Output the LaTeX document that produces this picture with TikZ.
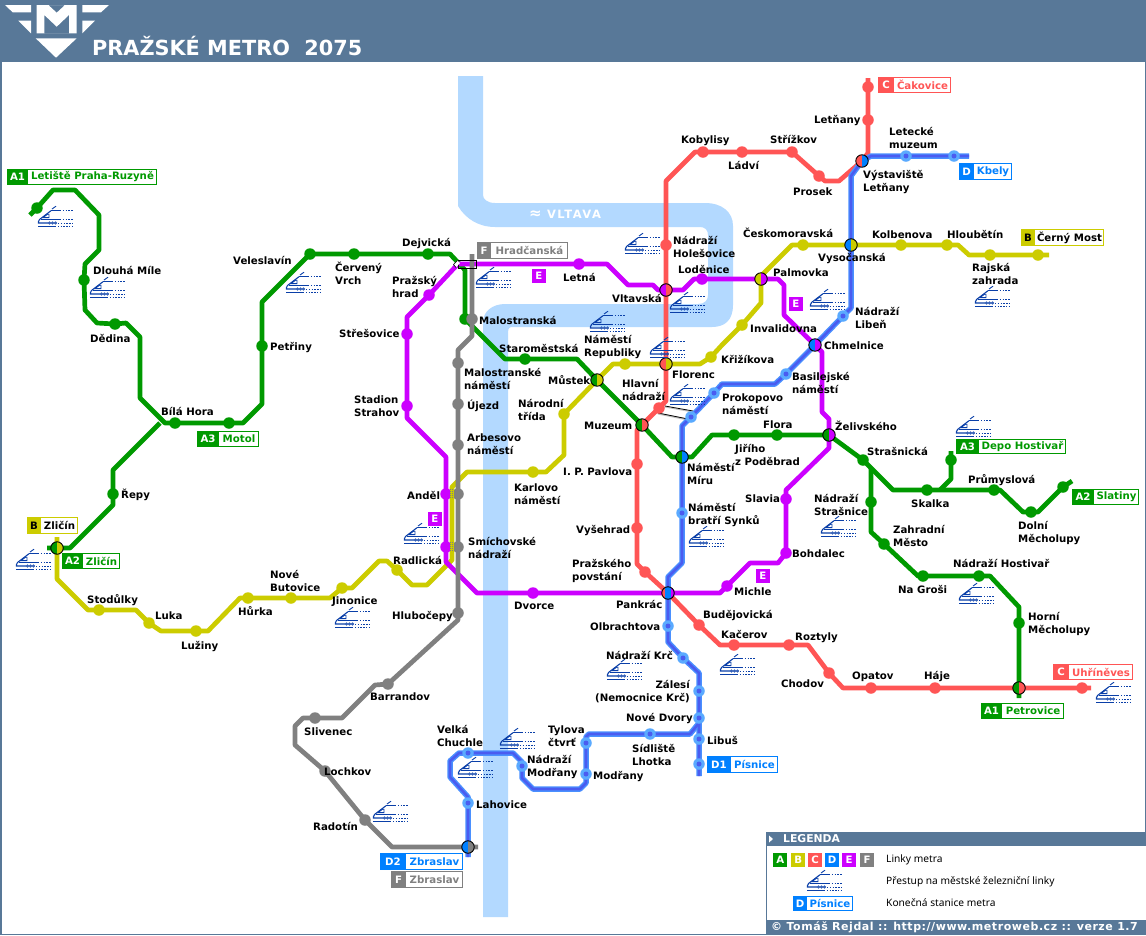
\documentclass[tikz,border=0pt]{standalone}
\usepackage{fontspec}
\setmainfont{DejaVu Sans}
\newfontfamily\legfont{Noto Sans}
\newfontfamily\footfont[LetterSpace=5]{DejaVu Sans}
\newfontfamily\vltfont[LetterSpace=13]{DejaVu Sans}
\usetikzlibrary{calc}
\definecolor{hdr}{HTML}{587898}
\definecolor{water}{HTML}{B3D9FF}
\definecolor{colA}{HTML}{009900}
\definecolor{colB}{HTML}{CCCC00}
\definecolor{colC}{HTML}{FF5555}
\definecolor{colD}{HTML}{0080FF}
\definecolor{colDo}{HTML}{4A90FF}
\definecolor{colDi}{HTML}{4A5CF0}
\definecolor{colDd}{HTML}{5AAAFF}
\definecolor{colE}{HTML}{CC00FF}
\definecolor{colF}{HTML}{808080}
\definecolor{trainc}{HTML}{0A3FA8}
\newcommand\Kst{\rule[-2.5pt]{0pt}{10.5pt}}
\tikzset{
 linea/.style={line width=4.7pt,line join=round,color=colA},
 lineb/.style={line width=4.7pt,line join=round,color=colB},
 linec/.style={line width=4.7pt,line join=round,color=colC},
 linee/.style={line width=4.7pt,line join=round,color=colE},
 linef/.style={line width=4.7pt,line join=round,color=colF},
 lined/.style={line width=5.5pt,line join=round,color=colDo},
 linedi/.style={line width=2.6pt,line join=round,color=colDi},
 dotbase/.style={circle,inner sep=0pt,minimum size=11.5pt},
 dota/.style={dotbase,fill=colA},
 dotb/.style={dotbase,fill=colB},
 dotc/.style={dotbase,fill=colC},
 dote/.style={dotbase,fill=colE},
 dotf/.style={dotbase,fill=colF},
 dotd/.style={dotbase,fill=colDd},
 dotdi/.style={circle,inner sep=0pt,minimum size=5pt,fill=colDi},
 ichg/.style 2 args={circle,inner sep=0pt,minimum size=12.5pt,draw=black,line width=.9pt,
   path picture={
    \fill[#1] (path picture bounding box.south west) rectangle (path picture bounding box.north);
    \fill[#2] (path picture bounding box.south) rectangle (path picture bounding box.north east);
   }},
 ichgthree/.style n args={3}{circle,inner sep=0pt,minimum size=12.5pt,draw=black,line width=.9pt,
   path picture={
    \fill[#1] (path picture bounding box.south west) rectangle (path picture bounding box.north east);
    \fill[#2] ($(path picture bounding box.south)+(-3pt,0)$) rectangle ($(path picture bounding box.north)+(3pt,0)$);
    \fill[#3] ($(path picture bounding box.south)+(3pt,0)$) rectangle (path picture bounding box.north east);
   }},
 stlabel/.style={anchor=west,inner sep=0pt,yshift=-1.5pt,align=left,font=\fontsize{10.2}{13}\selectfont\bfseries,
   execute at begin node=\Kst,execute at end node=\Kst},
 boxtxt/.style={inner sep=0pt,font=\fontsize{10.2}{12}\selectfont\bfseries},
 legtxt/.style={anchor=west,inner sep=0pt,font=\legfont\fontsize{10.2}{12}\selectfont},
 trainln/.style={line width=.9pt,color=trainc},
 traindot/.style={line width=.9pt,color=trainc,dash pattern=on 1.4pt off 1.4pt},
 trainicon/.pic={
   \draw[trainln] (14,2) -- (18,-.8);
   \draw[trainln,line width=1.4pt] (13,3.7) -- (22,3.7);
   \draw[traindot,line width=1.4pt] (22,3.7) -- (35,3.7);
   \draw[trainln,line width=1.1pt] (13,3.7) -- (1.5,12.5) -- (.5,14.5) -- (.5,16) -- (10,16);
   \draw[trainln] (3,12.8) -- (22,12.8);
   \draw[traindot] (22,12.8) -- (35,12.8);
   \draw[trainln] (5,10.6) -- (9.5,7.2) -- (11,7.2) -- (11,10.6) -- cycle;
   \draw[trainln,line width=.7pt] (11.5,16) circle (1.1pt) (14.5,16) circle (1.1pt) (17.5,16) circle (1.1pt);
   \draw[traindot] (20,16) -- (35,16);
   \draw[trainln,line width=1.1pt] (0,19.2) -- (17,19.2);
   \draw[traindot] (17,19.2) -- (35,19.2);
 },
}
\newcommand\lab[4]{\node[stlabel] (t#1) at (#2,#3) {#4};}
% name x0 y0 split x1 y1 colour tag text
\newcommand\tb[9]{%
 \draw[#7,fill=white,line width=1pt] (#2+.5,#3+.5) rectangle (#5-.5,#6-.5);
 \fill[#7] (#2,#3) rectangle (#4,#6);
 \node[boxtxt,text=white] (#1tag) at ($(#2,#3)!.5!(#4,#6)$) {#8};
 \node[boxtxt,text=#7] (#1txt) at ($(#4,#3)!.5!(#5,#6)$) {#9};
}
\newcommand\etag[3]{\node[boxtxt,text=white,fill=colE,minimum width=13.5pt,minimum height=14pt,anchor=north west] (#1) at (#2,#3) {E};}
\newcommand\train[2]{\pic at (#1,#2) {trainicon};}
\begin{document}
\begin{tikzpicture}[x=1pt,y=-1pt]
\useasboundingbox (0,0) rectangle (1146,935);
\fill[white] (0,0) rectangle (1146,935);
\draw[hdr,line width=1.5pt] (.75,0) -- (.75,934.25) -- (1145.25,934.25) -- (1145.25,0);
\fill[hdr] (0,0) rectangle (1146,62);
% logo
\fill[white] (5,5) -- (31,5) -- (31,12.3) -- (12.7,12.3) -- cycle;
\fill[white] (18.3,20.7) -- (31,20.7) -- (31,33.3) -- cycle;
\fill[white] (109,5) -- (82.3,5) -- (82.3,12.3) -- (101,12.3) -- cycle;
\fill[white] (95,20.7) -- (82.3,20.7) -- (82.3,33.3) -- cycle;
\fill[white,even odd rule] (36.7,5) rectangle (76.7,33.3)
   (48.3,5) -- (65,5) -- (56.7,12.7) -- cycle
   (44.3,15) -- (56.7,26.7) -- (69,15) -- (69,33.3) -- (44.3,33.3) -- cycle;
\fill[white] (35.7,38.3) -- (76.7,38.3) -- (56,57.7) -- cycle;
\node[inner sep=0pt,anchor=base west,text=white,font=\fontsize{20.8}{24}\selectfont\bfseries] (title) at (92,55) {PRAŽSKÉ METRO\ \ 2075};
% river
\fill[water] (458,76) -- (483,76) -- (483,195) .. controls (483,199) and (487,203) .. (495,203) -- (705,203)
  .. controls (722,203) and (733,212) .. (733,226) -- (733,305) .. controls (733,320) and (725,327) .. (712,327)
  -- (512,327) .. controls (508,327) and (508,330) .. (508,335) -- (508,917) -- (483,917) -- (483,322)
  .. controls (483,312) and (492,304) .. (505,304) -- (698,304) .. controls (705,304) and (708,300) .. (708,295)
  -- (708,235) .. controls (708,230) and (705,227) .. (700,227) -- (495,227)
  .. controls (478,227) and (465,218) .. (458,206) -- cycle;
\node[inner sep=0pt,text=white,font=\vltfont\fontsize{11.5}{12}\selectfont\bfseries] (vltava) at (565,214) {{\fontsize{15}{12}\selectfont ≈} VLTAVA};
% station coordinates
\foreach \n/\x/\y in {aLet/37/208,aDlo/84/280,aDed/115/324,aBil/175/423,aMot/229/423,aPet/262/346,aVel/310/254,aCer/354/254,aDej/428/254,aRep/113/494,aMal/465/319,aSta/525/359,aJir/734/435,aFlo/777/435,aStr/863/460,aSka/927/490,aPru/994/490,aDol/1031/512,aSla/1063/487,aDep/951/460,aNSt/871/502,aZah/884/544,aGro/923/576,aHos/979/576,aHor/1019/623,
 bCer/1038/255,bRaj/990/255,bHlo/947/245,bKol/901/245,bCes/803/245,bInv/742/325,bKri/711/357,bNam/625/364,bNar/564/414,bKar/533/472,bRad/397/570,bJin/342/588,bBut/291/598,bHur/248/598,bLuz/196/631,bLuk/149/623,bSto/99/610,
 cCak/868/87,cLet/868/120,cPro/819/176,cStr/792/152,cLad/742/152,cKob/703/152,cHol/666/245,cHln/659/408,cPav/637/464,cVys/637/528,cPov/645/572,cBud/699/625,cKac/734/645,cRoz/789/645,cCho/829/673,cOpa/871/688,cHaj/935/688,cUhr/1082/688,
 eLet/579/264,eLod/702/279,eSla/786/499,eBoh/786/553,eMic/727/586,eDvo/533/593,eSmi/446/547,eAnd/446/494,eStr/407/406,eSre/407/334,eHra/429/295,
 fMas/472/319,fMnm/458/363,fUje/458/404,fArb/458/445,fAnd/458/494,fSmi/458/547,fHlu/458/613,fBar/388/684,fSli/315/718,fLoc/325/771,fRad/365/820,
 dL1/906/156,dL2/954/156,dLib/843/316,dBas/786/374,dPro/714/393,dHln/691/417,dSyn/682/513,dOlb/668/626,dKrc/683/658,dZal/699/691,dDvo/699/718,dLbs/699/739,dPis/699/764,dLho/650/734,dTyl/586/743,dMod/586/774,dNMo/522/766,dChu/468/753,dLah/468/803,
 xMus/597/380,xMuz/642/425,xFlo/666/364,xVlt/666/290,xPal/761/279,xChm/815/345,xZel/829/435,xVys/851/245,xVyL/862/161,xMir/682/457,xPan/668/593,xPet/1019/688,xZli/57/548,xZbr/468/847,
 eaLet/30/215,eaZli/47/548,eaDep/951/451,eaSla/1072/481,eaPet/1019/698,ebCer/1049/255,ebZli/57/537,ecCak/868/78,ecUhr/1091/688,edKbe/969/156,edPis/699/776,edZbr/468/857,efHra/472/254,efZbr/478/847,eeHra/458/264,
 jBil/160/423,jAB/871/468,jDep/940/490,jD2/699/723}
 \coordinate (\n) at (\x,\y);
% transfer connectors
\coordinate (trA) at (665,406); \coordinate (trB) at (693,411);
\coordinate (trC) at (658,413); \coordinate (trD) at (688,419);
\draw[black!25,line width=1pt] ($(trA)+(0,1)$) -- ($(trB)+(0,1)$) ($(trC)+(0,1)$) -- ($(trD)+(0,1)$);
\draw[black,line width=.8pt] (trA) -- (trB) (trC) -- (trD);
% line A
\draw[linea] (eaLet) -- (aLet) -- (53,190) -- (75,190) -- (99,215) -- (99,250) -- (85,264) -- (aDlo) -- (85,310) -- (97,323) -- (aDed) -- (126,323) -- (140,337) -- (140,398) -- (165,423) -- (aBil) -- (aMot) -- (243,423) -- (262,404) -- (aPet) -- (262,302) -- (aVel) -- (aCer) -- (aDej) -- (450,254) -- (465,270) -- (aMal) -- (505,359) -- (aSta) -- (577,359) -- (xMus) -- (xMuz) -- (672,457) -- (xMir) -- (692,457) -- (712,435) -- (aJir) -- (aFlo) -- (xZel) -- (aStr) -- (893,490) -- (aSka) -- (aPru) -- (1000,490) -- (1023,512) -- (aDol) -- (1038,512) -- (aSla) -- (eaSla);
\draw[linea] (jAB) -- (aNSt) -- (871,532) -- (aZah) -- (918,576) -- (aGro) -- (aHos) -- (990,576) -- (1019,607) -- (aHor) -- (xPet) -- (eaPet);
\draw[linea] (jDep) -- (951,479) -- (aDep) -- (eaDep);
\draw[linea] (jBil) -- (113,470) -- (aRep) -- (113,505) -- (70,548) -- (xZli) -- (eaZli);
% line B
\draw[lineb] (ebCer) -- (bCer) -- (bRaj) -- (969,255) -- (958,245) -- (bHlo) -- (bKol) -- (xVys) -- (bCes) -- (792,245) -- (761,276) -- (761,303) -- (bInv) -- (722,345) -- (bKri) -- (700,364) -- (xFlo) -- (bNam) -- (613,364) -- (xMus) -- (bNar) -- (564,455) -- (546,472) -- (bKar) -- (467,472) -- (452,487) -- (452,560) -- (427,585) -- (412,585) -- (bRad) -- (387,561) -- (379,561) -- (352,588) -- (bJin) -- (330,598) -- (bBut) -- (bHur) -- (240,598) -- (208,631) -- (bLuz) -- (161,631) -- (bLuk) -- (136,610) -- (bSto) -- (88,610) -- (57,579) -- (xZli) -- (ebZli);
% line C
\draw[linec] (ecCak) -- (cCak) -- (cLet) -- (868,153) -- (xVyL) -- (839,181) -- (825,181) -- (cPro) -- (cStr) -- (cLad) -- (cKob) -- (695,152) -- (666,181) -- (cHol) -- (xVlt) -- (xFlo) -- (666,401) -- (cHln) -- (xMuz) -- (637,430) -- (cPav) -- (cVys) -- (637,564) -- (cPov) -- (xPan) -- (cBud) -- (720,645) -- (cKac) -- (cRoz) -- (808,645) -- (cCho) -- (843,688) -- (cOpa) -- (cHaj) -- (xPet) -- (cUhr) -- (ecUhr);
% line E
\draw[linee] (eeHra) -- (eLet) -- (607,264) -- (628,285) -- (653,285) -- (658,290) -- (xVlt) -- (683,290) -- (694,279) -- (eLod) -- (xPal) -- (778,279) -- (784,285) -- (784,315) -- (xChm) -- (822,352) -- (822,412) -- (829,419) -- (xZel) -- (829,448) -- (786,490) -- (eSla) -- (eBoh) -- (778,563) -- (750,563) -- (eMic) -- (720,593) -- (xPan) -- (eDvo) -- (477,593) -- (446,562) -- (eSmi) -- (eAnd) -- (446,457) -- (407,418) -- (eStr) -- (eSre) -- (407,317) -- (eHra) -- (eeHra);
% line F
\draw[linef] (efHra) -- (fMas) -- (472,336) -- (458,350) -- (fMnm) -- (fUje) -- (fArb) -- (fAnd) -- (fSmi) -- (fHlu) -- (458,620) -- (fBar) -- (375,685) -- (342,718) -- (fSli) -- (303,718) -- (295,726) -- (295,745) -- (fLoc) -- (fRad) -- (392,847) -- (xZbr) -- (efZbr);
% line D
\foreach \st in {lined,linedi}{
\draw[\st] (edKbe) -- (dL2) -- (dL1) -- (871,156) -- (xVyL) -- (851,176) -- (xVys) -- (851,308) -- (dLib) -- (xChm) -- (dBas) -- (775,384) -- (722,384) -- (dPro) -- (dHln) -- (682,426) -- (xMir) -- (dSyn) -- (682,563) -- (668,577) -- (xPan) -- (dOlb) -- (668,642) -- (dKrc) -- (699,673) -- (dZal) -- (dDvo) -- (jD2) -- (dLbs) -- (dPis) -- (edPis);
\draw[\st] (jD2) -- (690,734) -- (dLho) -- (589,734) -- (586,737) -- (dTyl) -- (dMod) -- (586,783) -- (580,789) -- (533,789) -- (522,778) -- (dNMo) -- (522,762) -- (513,753) -- (dChu) -- (459,753) -- (450,761) -- (450,777) -- (468,797) -- (dLah) -- (xZbr) -- (edZbr);
}
% Hradcanska exchange
\draw[black,line width=.9pt] (458,260) rectangle (476,268);
\fill[white] (453.5,264.5) -- (457.5,260.5) -- (460,263) -- (456,267.5) -- cycle;
\draw[black,line width=.6pt] (456,267.5) -- (453.5,264.5) -- (457.5,260.5);
% stations
\foreach \n in {aLet,aDlo,aDed,aBil,aMot,aPet,aVel,aCer,aDej,aRep,aMal,aSta,aJir,aFlo,aStr,aSka,aPru,aDol,aSla,aDep,aNSt,aZah,aGro,aHos,aHor} \node[dota] (s\n) at (\n) {};
\foreach \n in {bCer,bRaj,bHlo,bKol,bCes,bInv,bKri,bNam,bNar,bKar,bRad,bJin,bBut,bHur,bLuz,bLuk,bSto} \node[dotb] (s\n) at (\n) {};
\foreach \n in {cCak,cLet,cPro,cStr,cLad,cKob,cHol,cHln,cPav,cVys,cPov,cBud,cKac,cRoz,cCho,cOpa,cHaj,cUhr} \node[dotc] (s\n) at (\n) {};
\foreach \n in {eLet,eLod,eSla,eBoh,eMic,eDvo,eSmi,eAnd,eStr,eSre,eHra} \node[dote] (s\n) at (\n) {};
\foreach \n in {fMas,fMnm,fUje,fArb,fAnd,fSmi,fHlu,fBar,fSli,fLoc,fRad} \node[dotf] (s\n) at (\n) {};
\foreach \n in {dL1,dL2,dLib,dBas,dPro,dHln,dSyn,dOlb,dKrc,dZal,dDvo,dLbs,dPis,dLho,dTyl,dMod,dNMo,dChu,dLah} {\node[dotd] (s\n) at (\n) {}; \node[dotdi] (c\n) at (\n) {};}
% Andel and Smichovske exchange: yellow line kept over the dots, hatched
\foreach \s in {eAnd,eSmi}{
 \fill[colB] ($(\s)+(4,-6)$) rectangle ($(\s)+(8,6)$);
 \foreach \d in {-4.5,-2.5,-.5,1.5,3.5} \draw[colF,line width=1pt,dash pattern=on 1pt off 1pt] ($(\s)+(4,\d)$) -- ($(\s)+(8,\d)$);
}
% interchanges
\node[ichg={colA}{colB}] (iMus) at (xMus) {};
\node[ichg={colA}{colC}] (iMuz) at (xMuz) {};
\node[ichg={colC}{colB}] (iFlo) at (xFlo) {};
\node[ichg={colE}{colC}] (iVlt) at (xVlt) {};
\node[ichg={colB}{colE}] (iPal) at (xPal) {};
\node[ichg={colD}{colE}] (iChm) at (xChm) {};
\node[ichg={colA}{colE}] (iZel) at (xZel) {};
\node[ichg={colD}{colB}] (iVys) at (xVys) {};
\node[ichg={colC}{colD}] (iVyL) at (xVyL) {};
\node[ichg={colA}{colD}] (iMir) at (xMir) {};
\node[ichgthree={colC}{colD}{colE}] (iPan) at (xPan) {};
\node[ichg={colA}{colC}] (iPet) at (xPet) {};
\node[ichg={colA}{colB}] (iZli) at (xZli) {};
\node[ichg={colD}{colF}] (iZbr) at (xZbr) {};
% trains
\train{38}{207}\train{90}{278}\train{286}{273}\train{16}{550}\train{335}{608}\train{404}{524}\train{476}{268}\train{625}{234}\train{590}{312}\train{670}{293}\train{650}{338}\train{670}{385}\train{810}{290}\train{975}{287}\train{956}{417}\train{689}{527}\train{821}{517}\train{959}{584}\train{720}{655}\train{607}{660}\train{1096}{683}\train{500}{729}\train{458}{758}\train{373}{802}
% terminal boxes
\tb{tA}{7}{169}{28}{157}{185}{colA}{A1}{Letiště Praha-Ruzyně}
\tb{tB}{197}{431}{219}{259}{447}{colA}{A3}{Motol}
\tb{tC}{477}{242}{491}{568}{259}{colF}{F}{Hradčanská}
\tb{tD}{878}{77}{894}{951}{93}{colC}{C}{Čakovice}
\tb{tE}{959}{163}{974}{1012}{180}{colD}{D}{Kbely}
\tb{tF}{956}{439}{979}{1066}{454}{colA}{A3}{Depo Hostivař}
\tb{tG}{1072}{489}{1094}{1139}{505}{colA}{A2}{Slatiny}
\tb{tH}{1053}{664}{1069}{1133}{680}{colC}{C}{Uhříněves}
\tb{tI}{981}{703}{1002}{1064}{719}{colA}{A1}{Petrovice}
\tb{tJ}{707}{756}{731}{778}{773}{colD}{D1}{Písnice}
\tb{tK}{380}{853}{406}{463}{870}{colD}{D2}{Zbraslav}
\tb{tL}{391}{871}{406}{463}{888}{colF}{F}{Zbraslav}
\tb{tM}{62}{553}{83}{120}{569}{colA}{A2}{Zličín}
% yellow boxes with black text
\draw[colB,fill=white,line width=1pt] (1021.5,229.5) rectangle (1103.5,245.5);
\fill[colB] (1021,229) rectangle (1035,246);
\node[boxtxt] (tOtag) at (1028,237.5) {B};
\node[boxtxt] (tOtxt) at (1069.5,237.5) {Černý Most};
\draw[colB,fill=white,line width=1pt] (27.5,517.5) rectangle (77.5,533.5);
\fill[colB] (27,517) rectangle (41,534);
\node[boxtxt] (tPtag) at (34,525.5) {B};
\node[boxtxt] (tPtxt) at (59.5,525.5) {Zličín};
% E tags
\etag{eTagA}{532}{269}\etag{eTagB}{789}{297}\etag{eTagC}{428}{512}\etag{eTagD}{756}{569}
% station labels
\lab{Dej}{402}{242}{Dejvická}
\lab{Vel}{233}{260}{Veleslavín}
\lab{Cer}{335}{273.5}{Červený\\Vrch}
\lab{Pra}{392}{286.5}{Pražský\\hrad}
\lab{Stre}{339}{333}{Střešovice}
\lab{Stad}{354}{405.5}{Stadion\\Strahov}
\lab{Dlo}{93}{270}{Dlouhá Míle}
\lab{Ded}{90}{338}{Dědina}
\lab{Bil}{161}{411}{Bílá Hora}
\lab{Rep}{121}{494}{Řepy}
\lab{Pet}{270}{346}{Petřiny}
\lab{Let}{563}{277}{Letná}
\lab{Vlt}{612}{298}{Vltavská}
\lab{Lod}{678}{269}{Loděnice}
\lab{Hol}{673}{246.5}{Nádraží\\Holešovice}
\lab{Kob}{681}{139}{Kobylisy}
\lab{Lad}{728}{165}{Ládví}
\lab{Stz}{770}{139}{Střížkov}
\lab{Pro}{793}{191}{Prosek}
\lab{Ltn}{814}{119}{Letňany}
\lab{Lmu}{889}{137.5}{Letecké\\muzeum}
\lab{VyL}{863}{180.5}{Výstaviště\\Letňany}
\lab{Ces}{743}{233}{Českomoravská}
\lab{Kol}{872}{234}{Kolbenova}
\lab{Hlo}{947}{234}{Hloubětín}
\lab{Vys}{818}{257}{Vysočanská}
\lab{Pal}{773}{272}{Palmovka}
\lab{Raj}{972}{273.5}{Rajská\\zahrada}
\lab{Lib}{855}{317.5}{Nádraží\\Libeň}
\lab{Inv}{750}{328}{Invalidovna}
\lab{Chm}{824}{345}{Chmelnice}
\lab{Bas}{792}{383}{Basilejské\\náměstí}
\lab{Kri}{721}{359}{Křižíkova}
\lab{Prk}{722}{403.5}{Prokopovo\\náměstí}
\lab{Flr}{672}{374}{Florenc}
\lab{Hln}{622}{389.5}{Hlavní\\nádraží}
\lab{Flo}{763}{424}{Flora}
\lab{Jir}{735}{454.5}{Jiřího\\z Poděbrad}
\lab{Zel}{835}{426}{Želivského}
\lab{Str}{867}{451}{Strašnická}
\lab{Mir}{687}{473.5}{Náměstí\\Míru}
\lab{Sla}{745}{498}{Slavia}
\lab{Syn}{688}{513.5}{Náměstí\\bratří Synků}
\lab{NSt}{814}{504.5}{Nádraží\\Strašnice}
\lab{Zah}{893}{535.5}{Zahradní\\Město}
\lab{Ska}{911}{503}{Skalka}
\lab{Pru}{968}{479}{Průmyslová}
\lab{Dol}{1018}{531.5}{Dolní\\Měcholupy}
\lab{Hos}{953}{563}{Nádraží Hostivař}
\lab{Gro}{898}{589}{Na Groši}
\lab{Hor}{1028}{622.5}{Horní\\Měcholupy}
\lab{Boh}{792}{553}{Bohdalec}
\lab{Mic}{734}{591}{Michle}
\lab{Pan}{616}{604}{Pankrác}
\lab{Bud}{703}{614}{Budějovická}
\lab{Kac}{721}{634}{Kačerov}
\lab{Roz}{795}{636}{Roztyly}
\lab{Cho}{781}{683}{Chodov}
\lab{Opa}{852}{675}{Opatov}
\lab{Haj}{924}{675}{Háje}
\lab{Olb}{590}{626}{Olbrachtova}
\lab{Krc}{606}{655}{Nádraží Krč}
\node[stlabel,anchor=east,align=right] (tZal) at (690,691) {Zálesí\\(Nemocnice Krč)};
\lab{Dvo}{626}{717}{Nové Dvory}
\lab{Lbs}{707}{740}{Libuš}
\lab{Sid}{632}{754.5}{Sídliště\\Lhotka}
\lab{Mod}{593}{775}{Modřany}
\lab{Tyl}{548}{735.5}{Tylova\\čtvrť}
\lab{NMo}{527}{765.5}{Nádraží\\Modřany}
\lab{Chu}{437}{735.5}{Velká\\Chuchle}
\lab{Lah}{476}{804}{Lahovice}
\lab{Rad}{313}{826}{Radotín}
\lab{Loc}{324}{771}{Lochkov}
\lab{Sli}{304}{731}{Slivenec}
\lab{Bar}{370}{696}{Barrandov}
\lab{Hlu}{392}{615}{Hlubočepy}
\lab{Dvc}{514}{605}{Dvorce}
\lab{Rdl}{393}{560}{Radlická}
\lab{And}{407}{495}{Anděl}
\lab{Smi}{468}{547.5}{Smíchovské\\nádraží}
\lab{Kar}{514}{494}{Karlovo\\náměstí}
\lab{Pav}{563}{471}{I. P. Pavlova}
\lab{Vsh}{576}{529}{Vyšehrad}
\lab{Pov}{572}{569.5}{Pražského\\povstání}
\lab{Arb}{467}{443.5}{Arbesovo\\náměstí}
\lab{Uje}{467}{405}{Újezd}
\lab{Mnm}{464}{378.5}{Malostranské\\náměstí}
\lab{Mal}{479}{320}{Malostranská}
\lab{Sme}{499}{348}{Staroměstská}
\lab{Nam}{584}{345.5}{Náměstí\\Republiky}
\lab{Mus}{548}{380}{Můstek}
\lab{Nar}{518}{409.5}{Národní\\třída}
\lab{Muz}{584}{425}{Muzeum}
\lab{But}{270}{580.5}{Nové\\Butovice}
\lab{Jin}{332}{600}{Jinonice}
\lab{Hur}{238}{611}{Hůrka}
\lab{Sto}{87}{599}{Stodůlky}
\lab{Luk}{155}{615}{Luka}
\lab{Luz}{181}{645}{Lužiny}
% legend
\fill[white] (767,832) rectangle (1146,935);
\draw[hdr,line width=1pt] (766.5,832) -- (766.5,935);
\fill[hdr] (766,832) rectangle (1146,846);
\fill[hdr] (766,920) rectangle (1146,935);
\fill[white] (769,835.5) -- (773,839) -- (769,842.5) -- cycle;
\node[anchor=west,inner sep=0pt,text=white,font=\fontsize{10.8}{12}\selectfont\bfseries] (legT) at (783,839) {LEGENDA};
\foreach \n/\x/\c/\t in {A/773/colA/A,B/791/colB/B,C/808/colC/C,D/825/colD/D,E/842/colE/E,F/860/colF/F}
 \node[boxtxt,text=white,fill=\c,minimum width=14pt,minimum height=14pt,anchor=north west] (leg\n) at (\x,853) {\t};
\node[legtxt] (legA) at (886,860) {Linky metra};
\node[legtxt] (legB) at (886,882) {Přestup na městské železniční linky};
\node[legtxt] (legC) at (886,903) {Konečná stanice metra};
\tb{tQ}{793}{896}{807}{853}{911}{colD}{D}{Písnice}
\train{807}{871}
\node[anchor=west,inner sep=0pt,text=white,font=\footfont\fontsize{11}{12}\selectfont\bfseries] (foot) at (771,927.5) {© Tomáš Rejdal :: http://www.metroweb.cz :: verze 1.7};
\end{tikzpicture}
\end{document}
